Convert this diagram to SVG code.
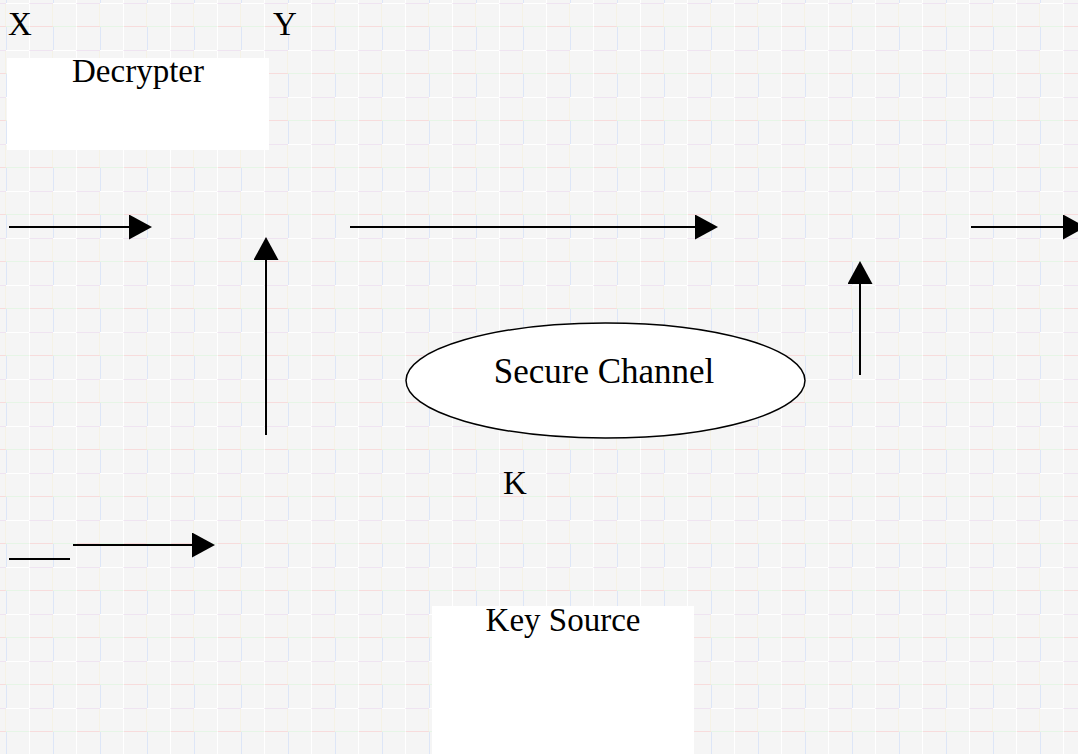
<svg xmlns="http://www.w3.org/2000/svg" width="1078" height="754" viewBox="0 0 1078 754">
<style>
.t{font-family:"Liberation Serif","Times New Roman",serif;font-size:33px;fill:#000}
.ln{stroke:#000;stroke-width:2;fill:none}
.box{fill:#fff}
</style>
<defs>
<marker id="ah" markerWidth="23" markerHeight="25" refX="0" refY="12.5" orient="auto" markerUnits="userSpaceOnUse">
<path d="M0,0 L23,12.5 L0,25 Z" fill="#000"/>
</marker>
<pattern id="bg" x="6" y="3" width="47" height="47" patternUnits="userSpaceOnUse">
<rect width="47" height="47" fill="#f5f5f5"/>
<path d="M0,0.5H23.5M23.5,0V23.5" stroke="#fff" stroke-width="1"/>
<path d="M23.5,23.5H47" stroke="#f7dcdc" stroke-width="1"/>
<path d="M0.5,23.5V47" stroke="#dde6f7" stroke-width="1"/>
<path d="M0,23.5H23.5" stroke="#e6f5e6" stroke-width="1"/>
<path d="M47,0V23.5" stroke="#f5efd8" stroke-width="1"/>
<path d="M23.5,23.5V47" stroke="#ffffff" stroke-width="1"/>
<path d="M23.5,0.5H47" stroke="#efe4f1" stroke-width="1"/>
</pattern>
</defs>
<rect width="1078" height="754" fill="url(#bg)"/>

<g id="label-x"><text class="t" x="8" y="35">X</text></g>
<g id="label-y"><text class="t" x="273" y="35">Y</text></g>

<g id="decrypter">
<rect class="box" x="7" y="58" width="262" height="92"/>
<text class="t" x="138" y="82" text-anchor="middle">Decrypter</text>
</g>

<g id="secure-channel">
<ellipse cx="605.5" cy="380.5" rx="199.5" ry="57.5" fill="#fff" stroke="#000" stroke-width="1.5"/>
<text x="604" y="383" text-anchor="middle" style="font-family:'Liberation Serif','Times New Roman',serif;font-size:35px" fill="#000">Secure Channel</text>
</g>

<g id="label-k"><text class="t" x="503" y="494">K</text></g>

<g id="key-source">
<rect class="box" x="432" y="606" width="262" height="148"/>
<text class="t" x="563" y="631" text-anchor="middle">Key Source</text>
</g>

<g id="connectors">
<line class="ln" x1="9" y1="227" x2="129" y2="227" marker-end="url(#ah)"/>
<line class="ln" x1="266" y1="435" x2="266" y2="260" marker-end="url(#ah)"/>
<line class="ln" x1="350" y1="227" x2="695" y2="227" marker-end="url(#ah)"/>
<line class="ln" x1="860" y1="375" x2="860" y2="284" marker-end="url(#ah)"/>
<line class="ln" x1="971" y1="227" x2="1063" y2="227" marker-end="url(#ah)"/>
<line class="ln" x1="73" y1="545" x2="192" y2="545" marker-end="url(#ah)"/>
<line class="ln" x1="9" y1="559" x2="70" y2="559"/>
</g>
</svg>
